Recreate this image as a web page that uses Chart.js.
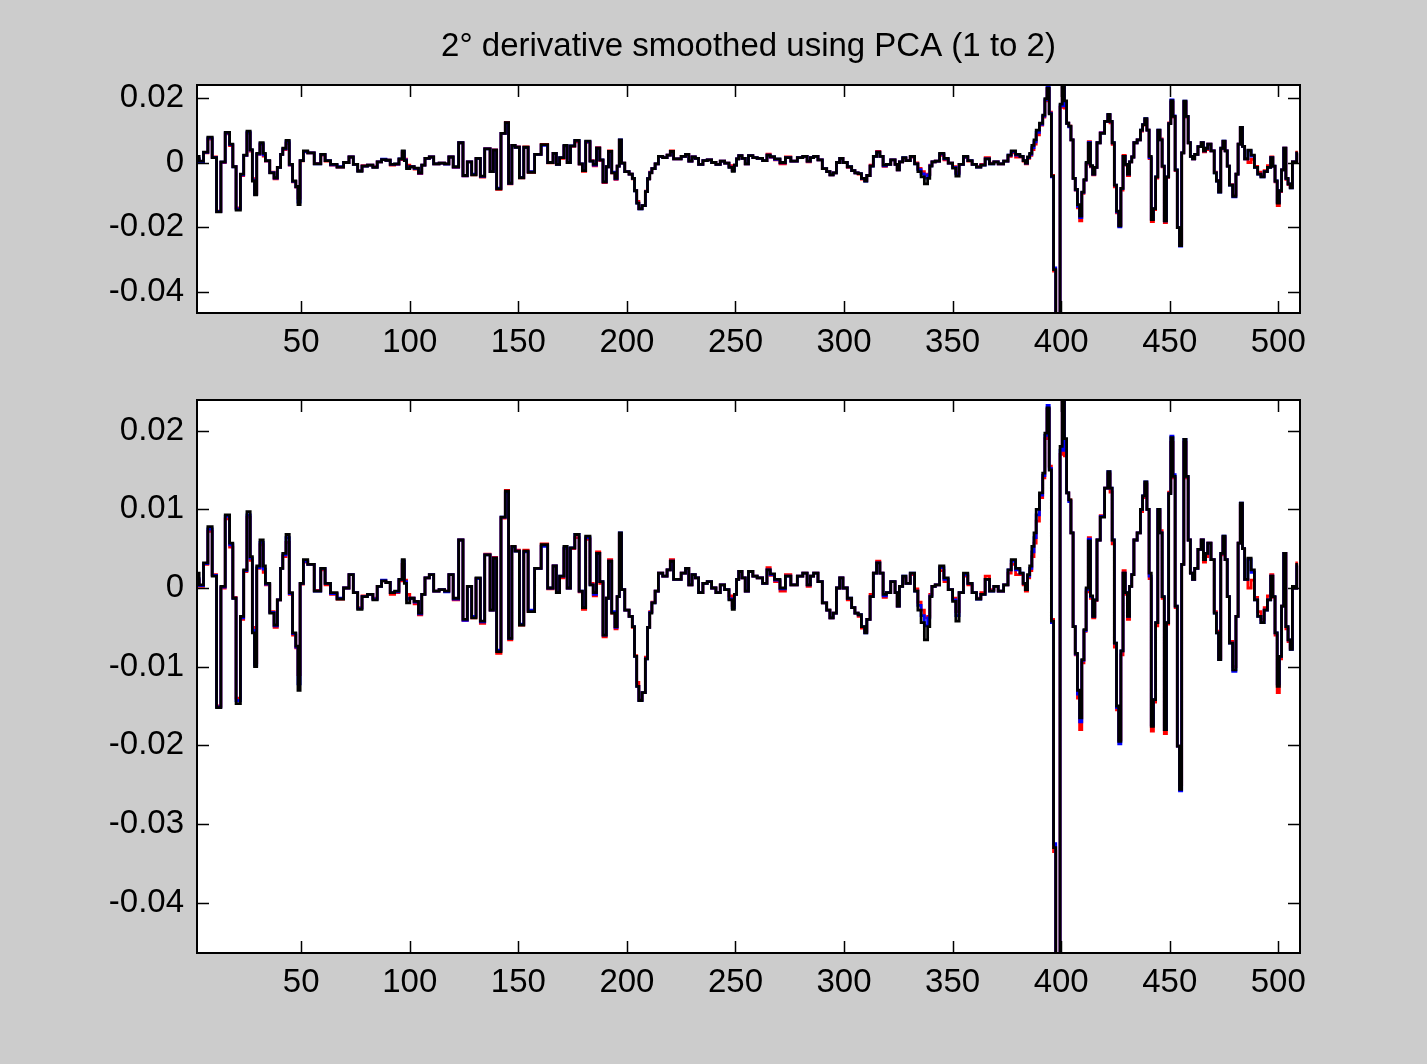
<!DOCTYPE html>
<html>
<head>
<meta charset="utf-8">
<script src="https://cdn.jsdelivr.net/npm/chart.js@4.4.1/dist/chart.umd.min.js"></script>
<style>
  html, body { margin: 0; padding: 0; background: #cccccc; width: 1427px; height: 1064px; overflow: hidden; }
  canvas { position: absolute; left: 0; }
  #upper { top: 0; }
  #lower { top: 380px; }
</style>
</head>
<body>
<canvas id="upper" width="1427" height="380"></canvas>
<canvas id="lower" width="1427" height="684"></canvas>
<script>
// Sample positions (spectral index) shared by the three curves
const xValues = [
  2,4,6,8,10,12,14,16,18,19,
  21,23,24,26,27,28,29,30,32,33,
  34,37,38,40,41,42,44,45,47,48,
  49,50,52,54,58,60,62,65,68,71,
  73,75,77,79,82,84,86,88,90,92,
  94,96,97,98,99,101,103,105,106,108,
  110,112,115,117,119,121,124,125,128,129,
  132,133,136,138,139,141,143,145,146,148,
  149,152,153,156,159,162,165,167,168,170,
  172,173,175,177,179,180,182,184,185,187,
  188,190,191,192,194,195,196,197,198,200,
  202,203,204,205,206,208,209,210,211,212,
  214,215,218,219,221,222,224,226,228,229,
  231,232,234,236,238,240,242,244,246,248,
  249,250,251,252,254,255,257,259,261,264,
  265,267,269,272,274,277,280,282,284,285,
  287,289,291,293,294,296,297,299,300,303,
  304,306,307,309,310,311,313,314,316,317,
  319,320,323,324,325,326,328,329,332,333,
  335,336,338,339,340,341,343,345,347,349,
  351,352,354,356,358,360,362,364,366,368,
  370,372,375,376,378,380,382,383,384,385,
  386,387,388,389,391,392,393,394,395,396,
  397,398,399,400,401,402,403,404,405,406,
  407,408,409,410,411,412,413,414,415,416,
  417,419,421,422,423,424,425,426,427,428,
  429,430,431,432,433,434,436,437,438,439,
  440,441,442,443,444,445,446,447,448,449,
  450,451,452,453,454,455,456,457,458,459,
  460,461,462,464,465,466,467,468,470,471,
  472,473,474,475,476,477,478,480,481,482,
  483,484,485,487,488,490,491,493,494,496,
  497,498,499,500,501,502,503,504,505,506,
  507,508,509
];

// Second-derivative spectrum, black trace
const blackSeries = [
  0.0019,0.0004,0.0032,0.0078,0.0015,-0.0152,0.0002,0.0093,0.0057,-0.0013,
  -0.0147,-0.0036,0.0023,0.0097,0.0040,-0.0057,-0.0100,0.0028,0.0061,0.0028,
  0.0006,-0.0032,-0.0047,-0.0015,0.0025,0.0044,0.0068,-0.0006,-0.0057,-0.0074,
  -0.0130,0.0006,0.0036,0.0030,-0.0004,0.0025,0.0006,-0.0006,-0.0014,0.0000,
  0.0017,-0.0006,-0.0027,-0.0011,-0.0008,-0.0015,0.0002,0.0009,0.0007,-0.0006,
  -0.0004,0.0011,0.0036,0.0006,-0.0019,-0.0013,-0.0017,-0.0032,-0.0008,0.0013,
  0.0017,-0.0004,-0.0002,-0.0004,0.0017,-0.0013,0.0061,-0.0040,0.0002,-0.0038,
  0.0013,-0.0042,0.0042,-0.0028,0.0038,-0.0081,0.0090,0.0123,-0.0064,0.0053,
  0.0047,-0.0047,0.0047,-0.0030,0.0025,0.0055,0.0000,0.0028,-0.0006,0.0015,
  0.0053,0.0000,0.0051,0.0068,-0.0004,-0.0025,0.0066,0.0004,-0.0006,0.0044,
  0.0008,-0.0060,-0.0013,0.0034,-0.0032,-0.0049,-0.0011,0.0070,-0.0002,-0.0028,
  -0.0036,-0.0049,-0.0087,-0.0125,-0.0143,-0.0133,-0.0090,-0.0050,-0.0032,-0.0019,
  -0.0004,0.0019,0.0015,0.0023,0.0034,0.0011,0.0011,0.0019,0.0025,0.0004,
  0.0017,0.0013,-0.0006,0.0006,0.0008,0.0000,-0.0006,0.0004,-0.0002,-0.0015,
  -0.0027,-0.0008,0.0011,0.0021,0.0013,-0.0004,0.0021,0.0015,0.0013,0.0006,
  0.0023,0.0018,0.0011,0.0000,0.0015,0.0004,0.0015,0.0019,0.0004,0.0015,
  0.0019,0.0008,-0.0019,-0.0028,-0.0038,-0.0032,0.0000,0.0013,0.0000,-0.0013,
  -0.0025,-0.0032,-0.0034,-0.0049,-0.0057,-0.0040,-0.0011,0.0019,0.0032,0.0019,
  -0.0008,-0.0006,0.0008,-0.0006,-0.0023,0.0002,0.0015,0.0006,0.0019,-0.0004,
  -0.0028,-0.0044,-0.0066,-0.0049,-0.0011,0.0002,0.0004,0.0028,0.0013,-0.0002,
  -0.0017,-0.0042,-0.0006,0.0019,0.0006,-0.0006,-0.0014,-0.0008,0.0011,-0.0004,
  0.0002,-0.0004,0.0004,0.0023,0.0036,0.0025,0.0019,0.0006,-0.0002,0.0017,
  0.0028,0.0053,0.0070,0.0100,0.0121,0.0146,0.0197,0.0229,0.0150,-0.0042,
  -0.0330,-0.0560,-0.0520,0.0180,0.0260,0.0190,0.0121,0.0112,0.0070,-0.0049,
  -0.0083,-0.0130,-0.0165,-0.0091,-0.0053,0.0000,0.0060,-0.0010,-0.0036,-0.0015,
  0.0061,0.0090,0.0127,0.0148,0.0127,0.0061,-0.0070,-0.0150,-0.0195,-0.0080,
  0.0019,-0.0006,-0.0036,0.0002,0.0017,0.0061,0.0070,0.0100,0.0117,0.0135,
  0.0100,0.0019,-0.0176,-0.0142,-0.0044,0.0100,0.0070,-0.0011,-0.0180,-0.0044,
  0.0120,0.0191,0.0142,-0.0023,-0.0201,-0.0256,0.0030,0.0189,0.0142,0.0061,
  0.0019,0.0011,0.0025,0.0049,0.0061,0.0036,0.0044,0.0057,0.0036,-0.0032,
  -0.0057,-0.0091,0.0044,0.0066,0.0036,-0.0011,-0.0070,-0.0104,-0.0036,0.0057,
  0.0108,0.0050,0.0011,0.0038,0.0023,-0.0015,-0.0036,-0.0044,-0.0028,-0.0015,
  0.0015,-0.0011,-0.0057,-0.0125,-0.0087,-0.0023,0.0044,-0.0049,-0.0066,-0.0078,
  0.0002,0.0000,0.0030
];

// Red trace
const redSeries = [
  0.0010,0.0002,0.0030,0.0072,0.0017,-0.0150,0.0000,0.0088,0.0052,-0.0012,
  -0.0140,-0.0040,0.0021,0.0090,0.0035,-0.0050,-0.0095,0.0025,0.0055,0.0020,
  0.0004,-0.0030,-0.0050,-0.0015,0.0025,0.0040,0.0058,-0.0008,-0.0060,-0.0076,
  -0.0110,0.0005,0.0033,0.0030,-0.0003,0.0023,0.0004,-0.0008,-0.0014,0.0000,
  0.0017,-0.0006,-0.0025,-0.0010,-0.0008,-0.0013,0.0002,0.0009,0.0007,-0.0008,
  -0.0006,0.0009,0.0030,0.0010,-0.0008,-0.0013,-0.0020,-0.0034,-0.0008,0.0013,
  0.0017,-0.0004,-0.0002,-0.0004,0.0017,-0.0015,0.0061,-0.0041,0.0002,-0.0038,
  0.0012,-0.0045,0.0043,-0.0028,0.0039,-0.0083,0.0089,0.0124,-0.0066,0.0053,
  0.0048,-0.0047,0.0048,-0.0030,0.0025,0.0056,-0.0001,0.0028,-0.0006,0.0013,
  0.0050,0.0000,0.0050,0.0064,-0.0005,-0.0027,0.0062,0.0006,-0.0010,0.0046,
  0.0006,-0.0062,-0.0013,0.0036,-0.0032,-0.0052,-0.0011,0.0068,-0.0002,-0.0028,
  -0.0036,-0.0050,-0.0086,-0.0120,-0.0142,-0.0133,-0.0088,-0.0050,-0.0030,-0.0018,
  -0.0004,0.0019,0.0015,0.0023,0.0036,0.0011,0.0011,0.0019,0.0025,0.0004,
  0.0017,0.0013,-0.0006,0.0006,0.0008,0.0000,-0.0006,0.0004,-0.0002,-0.0010,
  -0.0022,-0.0008,0.0011,0.0021,0.0013,-0.0004,0.0021,0.0015,0.0013,0.0006,
  0.0026,0.0016,0.0008,-0.0004,0.0017,0.0004,0.0015,0.0019,0.0002,0.0015,
  0.0019,0.0008,-0.0019,-0.0028,-0.0038,-0.0032,0.0000,0.0013,0.0000,-0.0015,
  -0.0025,-0.0032,-0.0036,-0.0051,-0.0055,-0.0040,-0.0008,0.0019,0.0034,0.0019,
  -0.0012,-0.0006,0.0008,-0.0006,-0.0023,0.0002,0.0013,0.0006,0.0017,-0.0001,
  -0.0018,-0.0028,-0.0038,-0.0036,-0.0008,0.0002,0.0004,0.0022,0.0008,-0.0002,
  -0.0013,-0.0030,-0.0006,0.0015,0.0004,-0.0006,-0.0013,-0.0006,0.0015,-0.0002,
  0.0002,-0.0004,0.0004,0.0019,0.0030,0.0017,0.0017,0.0004,-0.0004,0.0013,
  0.0022,0.0040,0.0057,0.0085,0.0115,0.0140,0.0190,0.0227,0.0155,-0.0040,
  -0.0335,-0.0560,-0.0520,0.0170,0.0250,0.0168,0.0121,0.0112,0.0070,-0.0049,
  -0.0085,-0.0140,-0.0180,-0.0095,-0.0055,-0.0005,0.0064,-0.0013,-0.0038,-0.0016,
  0.0061,0.0092,0.0127,0.0145,0.0122,0.0056,-0.0075,-0.0155,-0.0193,-0.0085,
  0.0022,-0.0008,-0.0040,0.0002,0.0017,0.0061,0.0070,0.0097,0.0115,0.0132,
  0.0100,0.0012,-0.0182,-0.0145,-0.0048,0.0098,0.0073,-0.0013,-0.0185,-0.0046,
  0.0122,0.0185,0.0140,-0.0025,-0.0201,-0.0250,0.0030,0.0185,0.0140,0.0061,
  0.0019,0.0011,0.0025,0.0049,0.0061,0.0033,0.0040,0.0057,0.0036,-0.0030,
  -0.0055,-0.0089,0.0042,0.0064,0.0036,-0.0011,-0.0068,-0.0100,-0.0036,0.0057,
  0.0105,0.0050,0.0011,0.0000,0.0010,-0.0012,-0.0030,-0.0040,-0.0025,-0.0010,
  0.0017,-0.0012,-0.0060,-0.0133,-0.0090,-0.0023,0.0044,-0.0052,-0.0068,-0.0076,
  0.0002,0.0000,0.0032
];

// Blue trace
const blueSeries = [
  0.0012,0.0003,0.0031,0.0075,0.0016,-0.0151,0.0001,0.0091,0.0055,-0.0013,
  -0.0143,-0.0038,0.0022,0.0093,0.0038,-0.0054,-0.0098,0.0026,0.0058,0.0024,
  0.0005,-0.0031,-0.0048,-0.0015,0.0025,0.0042,0.0064,-0.0007,-0.0058,-0.0075,
  -0.0122,0.0006,0.0034,0.0030,-0.0004,0.0025,0.0006,-0.0007,-0.0013,0.0000,
  0.0017,-0.0006,-0.0026,-0.0011,-0.0008,-0.0014,0.0002,0.0010,0.0007,-0.0006,
  -0.0005,0.0011,0.0034,0.0008,-0.0014,-0.0013,-0.0018,-0.0033,-0.0008,0.0013,
  0.0017,-0.0004,-0.0002,-0.0005,0.0017,-0.0014,0.0061,-0.0041,0.0002,-0.0036,
  0.0012,-0.0043,0.0042,-0.0028,0.0038,-0.0079,0.0090,0.0121,-0.0064,0.0052,
  0.0047,-0.0046,0.0046,-0.0028,0.0025,0.0053,0.0000,0.0028,-0.0006,0.0015,
  0.0051,0.0000,0.0051,0.0068,-0.0004,-0.0025,0.0064,0.0004,-0.0008,0.0044,
  0.0008,-0.0060,-0.0013,0.0034,-0.0030,-0.0050,-0.0011,0.0070,-0.0002,-0.0028,
  -0.0036,-0.0049,-0.0087,-0.0125,-0.0143,-0.0133,-0.0090,-0.0050,-0.0031,-0.0019,
  -0.0004,0.0019,0.0015,0.0023,0.0034,0.0011,0.0011,0.0019,0.0025,0.0004,
  0.0017,0.0013,-0.0006,0.0006,0.0008,0.0000,-0.0006,0.0004,-0.0002,-0.0014,
  -0.0025,-0.0008,0.0011,0.0021,0.0013,-0.0004,0.0021,0.0015,0.0013,0.0006,
  0.0023,0.0017,0.0010,-0.0001,0.0015,0.0004,0.0015,0.0019,0.0004,0.0015,
  0.0019,0.0008,-0.0019,-0.0028,-0.0038,-0.0032,0.0000,0.0013,0.0000,-0.0013,
  -0.0025,-0.0032,-0.0034,-0.0049,-0.0057,-0.0040,-0.0011,0.0019,0.0032,0.0019,
  -0.0010,-0.0006,0.0008,-0.0006,-0.0023,0.0002,0.0015,0.0006,0.0019,-0.0004,
  -0.0022,-0.0035,-0.0048,-0.0038,-0.0010,0.0002,0.0004,0.0026,0.0011,-0.0002,
  -0.0015,-0.0035,-0.0006,0.0017,0.0006,-0.0006,-0.0014,-0.0008,0.0011,-0.0004,
  0.0002,-0.0004,0.0004,0.0023,0.0034,0.0023,0.0019,0.0006,-0.0002,0.0015,
  0.0025,0.0046,0.0064,0.0093,0.0118,0.0143,0.0194,0.0232,0.0152,-0.0044,
  -0.0325,-0.0560,-0.0520,0.0175,0.0255,0.0175,0.0121,0.0110,0.0070,-0.0049,
  -0.0084,-0.0135,-0.0170,-0.0092,-0.0054,-0.0002,0.0062,-0.0011,-0.0036,-0.0015,
  0.0061,0.0091,0.0127,0.0148,0.0127,0.0061,-0.0070,-0.0152,-0.0198,-0.0080,
  0.0019,-0.0006,-0.0036,0.0002,0.0017,0.0061,0.0070,0.0100,0.0117,0.0135,
  0.0100,0.0015,-0.0174,-0.0142,-0.0044,0.0100,0.0070,-0.0011,-0.0180,-0.0044,
  0.0120,0.0193,0.0144,-0.0023,-0.0201,-0.0258,0.0030,0.0189,0.0142,0.0061,
  0.0019,0.0011,0.0025,0.0049,0.0061,0.0036,0.0044,0.0057,0.0036,-0.0032,
  -0.0057,-0.0091,0.0044,0.0066,0.0036,-0.0011,-0.0070,-0.0106,-0.0036,0.0057,
  0.0108,0.0050,0.0011,0.0036,0.0020,-0.0015,-0.0036,-0.0044,-0.0028,-0.0015,
  0.0015,-0.0011,-0.0057,-0.0122,-0.0087,-0.0023,0.0044,-0.0049,-0.0066,-0.0078,
  0.0002,0.0000,0.0028
];

// Axis ticks
const xTickValues = [50, 100, 150, 200, 250, 300, 350, 400, 450, 500];
const xTickLabels = ['50', '100', '150', '200', '250', '300', '350', '400', '450', '500'];
const yTicksUpper = [0.02, 0, -0.02, -0.04];
const yLabelsUpper = ['0.02', '0', '-0.02', '-0.04'];
const yTicksLower = [0.02, 0.01, 0, -0.01, -0.02, -0.03, -0.04];
const yLabelsLower = ['0.02', '0.01', '0', '-0.01', '-0.02', '-0.03', '-0.04'];

const titleText = '2\u00B0 derivative smoothed using PCA (1 to 2)';

const FONT = "'Liberation Sans', Arial, Helvetica, sans-serif";
const FONT_SIZE = 33;
const X_MIN = 2, X_MAX = 510;
const Y_MIN = -0.0464, Y_MAX = 0.0239;
const AXIS_LEFT = 197;      // width reserved for the y labels
const TICK_LEN = 12;

function points(ys) {
  return xValues.map((x, i) => ({ x: x, y: ys[i] }));
}

// White axes background, box and inward tick marks on all four sides
const axesBox = {
  id: 'axesBox',
  beforeDatasetsDraw(chart) {
    const a = chart.chartArea, ctx = chart.ctx;
    ctx.save();
    ctx.fillStyle = '#ffffff';
    ctx.fillRect(a.left, a.top, a.right - a.left, a.bottom - a.top);
    ctx.restore();
  },
  afterDraw(chart) {
    const a = chart.chartArea, ctx = chart.ctx;
    const sx = chart.scales.x, sy = chart.scales.y;
    ctx.save();
    ctx.strokeStyle = '#000000';
    ctx.lineWidth = 1.5;
    ctx.beginPath();
    sx.ticks.forEach(t => {
      const p = Math.round(sx.getPixelForValue(t.value)) + 0.5;
      ctx.moveTo(p, a.bottom); ctx.lineTo(p, a.bottom - TICK_LEN);
      ctx.moveTo(p, a.top); ctx.lineTo(p, a.top + TICK_LEN);
    });
    sy.ticks.forEach(t => {
      const p = Math.round(sy.getPixelForValue(t.value)) + 0.5;
      ctx.moveTo(a.left, p); ctx.lineTo(a.left + TICK_LEN, p);
      ctx.moveTo(a.right, p); ctx.lineTo(a.right - TICK_LEN, p);
    });
    ctx.stroke();
    ctx.lineWidth = 2;
    ctx.strokeRect(a.left, a.top, a.right - a.left, a.bottom - a.top);
    ctx.restore();
  }
};

function makeDatasets() {
  const common = { pointRadius: 0, borderWidth: 2.8, tension: 0, stepped: 'middle', clip: 0, borderJoinStyle: 'miter', fill: false };
  return [
    Object.assign({ label: 'black', data: points(blackSeries), borderColor: '#000000', order: 0 }, common),
    Object.assign({ label: 'blue', data: points(blueSeries), borderColor: '#0000ff', order: 1 }, common),
    Object.assign({ label: 'red', data: points(redSeries), borderColor: '#ff0000', order: 2 }, common)
  ];
}

function makeOptions(cfg) {
  const tickFont = { family: FONT, size: FONT_SIZE, lineHeight: 1.2 };
  return {
    responsive: false,
    animation: false,
    devicePixelRatio: 1,
    layout: { padding: { left: 0, right: 127, top: cfg.padTop, bottom: 0 } },
    plugins: {
      legend: { display: false },
      tooltip: { enabled: false },
      title: cfg.title ? {
        display: true,
        text: cfg.title,
        fullSize: false,
        color: '#000000',
        font: { family: FONT, size: FONT_SIZE, weight: 'normal', lineHeight: 1.2 },
        padding: { top: 27, bottom: 18.4 }
      } : { display: false }
    },
    scales: {
      x: {
        type: 'linear',
        min: X_MIN,
        max: X_MAX,
        grid: { display: false, drawTicks: false },
        border: { display: false },
        afterBuildTicks: s => { s.ticks = xTickValues.map(v => ({ value: v })); },
        afterFit: s => { s.height = cfg.xAxisHeight; s.paddingLeft = 0; s.paddingRight = 0; },
        ticks: {
          autoSkip: false, maxRotation: 0, minRotation: 0, padding: 10,
          color: '#000000', font: tickFont,
          callback: (v, i) => xTickLabels[i]
        }
      },
      y: {
        type: 'linear',
        min: Y_MIN,
        max: Y_MAX,
        grid: { display: false, drawTicks: false },
        border: { display: false },
        afterBuildTicks: s => { s.ticks = cfg.yTicks.map(v => ({ value: v })); },
        afterFit: s => { s.width = AXIS_LEFT; s.paddingTop = 0; s.paddingBottom = 0; },
        ticks: {
          autoSkip: false, padding: 13,
          color: '#000000', font: tickFont,
          callback: (v, i) => cfg.yLabels[i]
        }
      }
    }
  };
}

new Chart(document.getElementById('upper'), {
  type: 'line',
  data: { datasets: makeDatasets() },
  options: makeOptions({ title: titleText, padTop: 0, xAxisHeight: 67, yTicks: yTicksUpper, yLabels: yLabelsUpper }),
  plugins: [axesBox]
});

new Chart(document.getElementById('lower'), {
  type: 'line',
  data: { datasets: makeDatasets() },
  options: makeOptions({ title: null, padTop: 20, xAxisHeight: 111, yTicks: yTicksLower, yLabels: yLabelsLower }),
  plugins: [axesBox]
});
</script>
</body>
</html>
